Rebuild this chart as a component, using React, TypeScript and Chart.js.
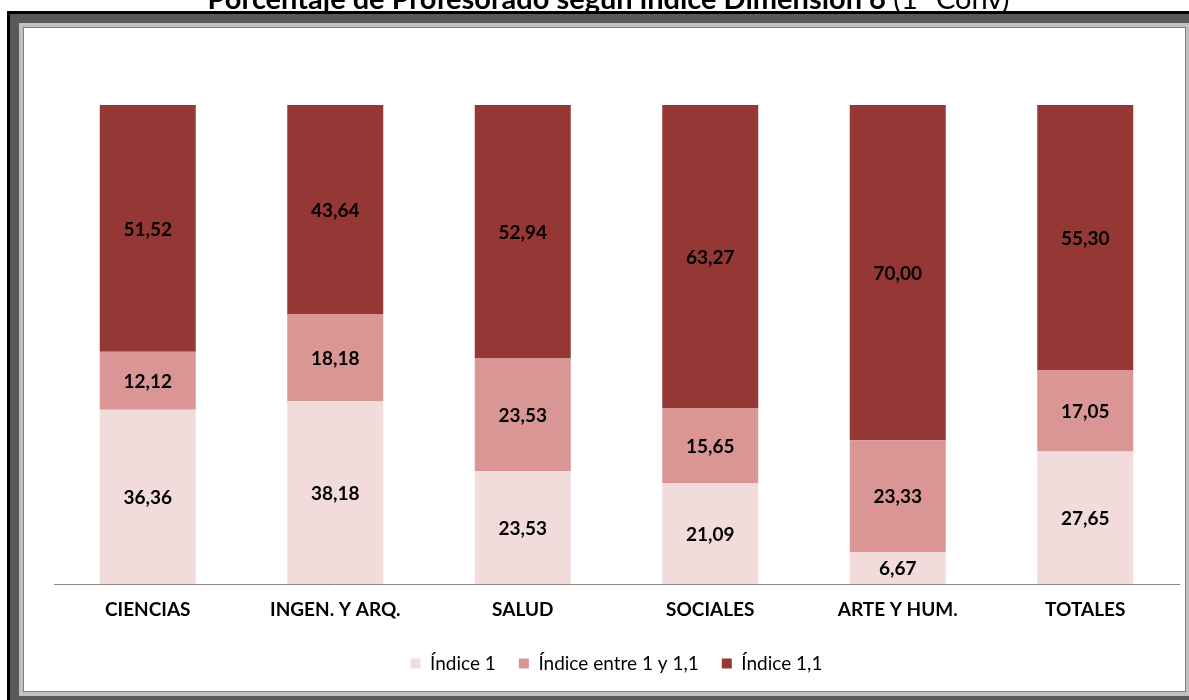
import React, { useEffect, useRef } from "react";
import { Chart, registerables } from "chart.js";

Chart.register(...registerables);

const categories = ["CIENCIAS", "INGEN. Y ARQ.", "SALUD", "SOCIALES", "ARTE Y HUM.", "TOTALES"];
const indice1 = [36.36, 38.18, 23.53, 21.09, 6.67, 27.65];
const indiceEntre = [12.12, 18.18, 23.53, 15.65, 23.33, 17.05];
const indice11 = [51.52, 43.64, 52.94, 63.27, 70.0, 55.3];
const seriesNames = ["Índice 1", "Índice entre 1 y 1,1", "Índice 1,1"];
const seriesColors = ["#f2dcdb", "#da9694", "#953735"];

const FONT = "Lato, 'Open Sans', sans-serif";

const labelPlugin = {
  id: "segLabels",
  afterDatasetsDraw(chart: any) {
    const ctx = chart.ctx;
    ctx.save();
    ctx.font = `bold 19px ${FONT}`;
    ctx.fillStyle = "#000";
    ctx.textAlign = "center";
    ctx.textBaseline = "middle";
    chart.data.datasets.forEach((ds: any, di: number) => {
      const meta = chart.getDatasetMeta(di);
      meta.data.forEach((el: any, i: number) => {
        const v = ds.data[i] as number;
        const y = (el.y + el.base) / 2;
        ctx.fillText(v.toFixed(2).replace(".", ","), el.x, y + 1);
      });
    });
    ctx.restore();
  },
};

export default function App() {
  const ref = useRef<HTMLCanvasElement | null>(null);
  useEffect(() => {
    if (!ref.current) return;
    const chart = new Chart(ref.current, {
      type: "bar",
      data: {
        labels: categories,
        datasets: [indice1, indiceEntre, indice11].map((d, i) => ({
          label: seriesNames[i],
          data: d,
          backgroundColor: seriesColors[i],
          borderWidth: 0,
          categoryPercentage: 1,
          barPercentage: 0.512,
        })),
      },
      options: {
        animation: false,
        responsive: false,
        maintainAspectRatio: false,
        layout: { padding: { left: 30, right: 6, top: 77, bottom: 8 } },
        plugins: {
          title: { display: false },
          tooltip: { enabled: false },
          legend: {
            position: "bottom",
            labels: {
              boxWidth: 10,
              boxHeight: 10,
              padding: 23,
              color: "#000",
              font: { family: FONT, size: 19 },
            },
          },
        },
        scales: {
          x: {
            stacked: true,
            grid: { display: false, drawTicks: false },
            border: { display: true, color: "#868686", width: 1 },
            ticks: { color: "#000", font: { family: FONT, size: 19, weight: "bold" }, padding: 14 },
            afterFit: (s: any) => {
              s.height = 47;
            },
          },
          y: { stacked: true, display: false, min: 0, max: 100 },
        },
      },
      plugins: [labelPlugin],
    });
    return () => chart.destroy();
  }, []);

  return (
    <div>
      <div
        style={{
          position: "fixed",
          left: 0,
          width: 1217,
          top: -17,
          textAlign: "center",
          fontFamily: FONT,
          fontSize: 29,
          lineHeight: "29px",
          color: "#000",
          whiteSpace: "nowrap",
          zIndex: 0,
        }}
      >
        <span style={{ fontWeight: "bold" }}>Porcentaje de Profesorado según índice Dimensión 6</span>
        <span> (1ª Conv)</span>
      </div>
      <div style={{ position: "fixed", left: 7, top: 11, width: 1300, height: 800, background: "#000", zIndex: 1 }} />
      <div style={{ position: "fixed", left: 10, top: 14, width: 1300, height: 800, background: "#595959", zIndex: 2 }} />
      <div style={{ position: "fixed", left: 19, top: 23, width: 1171, height: 673, background: "#c0c0c0", zIndex: 3 }} />
      <div
        style={{
          position: "fixed",
          left: 23,
          top: 27,
          width: 1161,
          height: 663,
          background: "#fff",
          border: "1px solid #808080",
          zIndex: 4,
        }}
      >
        <canvas ref={ref} width={1161} height={663} style={{ display: "block" }} />
      </div>
    </div>
  );
}
